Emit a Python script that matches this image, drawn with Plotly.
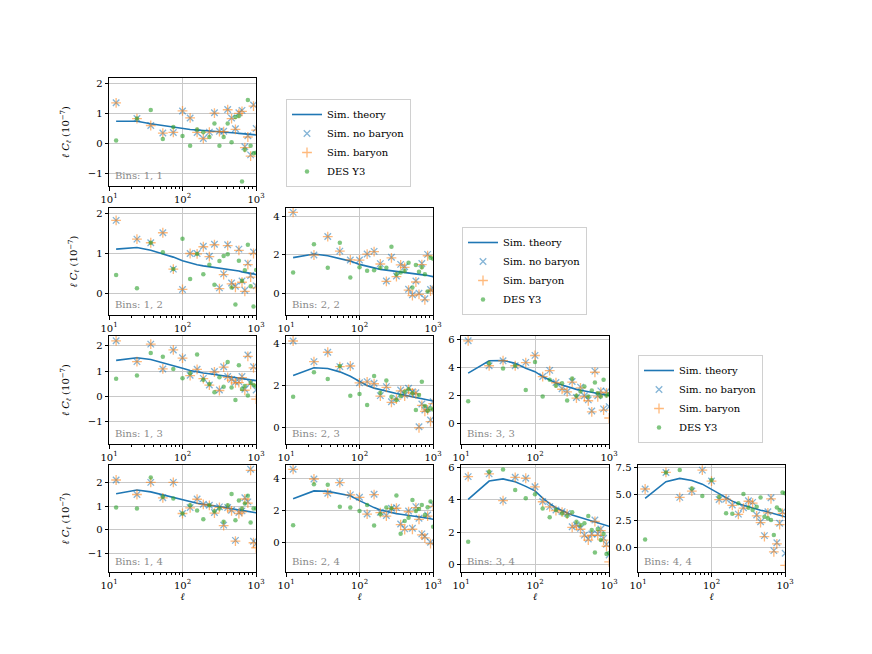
import plotly.graph_objects as go

# multipole bin centres shared by every panel
ell = [12.5, 24, 37, 54, 75, 100, 127, 158, 192, 232, 272, 318, 363, 412,
       465, 525, 585, 645, 705, 775, 845, 925, 1005]

# theory curves, l*C_l in units of 1e-7
theory_11 = [0.74, 0.74, 0.66, 0.60, 0.55, 0.49, 0.47, 0.45, 0.43, 0.42, 0.40, 0.39, 0.38, 0.37, 0.36, 0.35, 0.34, 0.33, 0.32, 0.31, 0.31, 0.30, 0.29]
theory_12 = [1.12, 1.16, 1.09, 1.00, 0.92, 0.83, 0.77, 0.73, 0.70, 0.68, 0.66, 0.64, 0.63, 0.61, 0.60, 0.58, 0.57, 0.55, 0.54, 0.52, 0.51, 0.50, 0.48]
theory_22 = [1.86, 2.05, 1.96, 1.82, 1.68, 1.51, 1.40, 1.30, 1.25, 1.21, 1.18, 1.15, 1.13, 1.10, 1.08, 1.06, 1.04, 1.00, 0.98, 0.95, 0.93, 0.90, 0.87]
theory_13 = [1.43, 1.53, 1.46, 1.34, 1.22, 1.12, 1.03, 0.97, 0.93, 0.90, 0.87, 0.85, 0.83, 0.81, 0.79, 0.77, 0.75, 0.72, 0.70, 0.68, 0.67, 0.65, 0.63]
theory_23 = [2.48, 2.86, 2.82, 2.66, 2.45, 2.20, 2.00, 1.88, 1.80, 1.74, 1.68, 1.62, 1.58, 1.54, 1.50, 1.48, 1.45, 1.42, 1.39, 1.36, 1.33, 1.30, 1.26]
theory_33 = [3.60, 4.48, 4.50, 4.30, 3.95, 3.70, 3.35, 3.10, 2.90, 2.75, 2.62, 2.50, 2.44, 2.38, 2.33, 2.29, 2.25, 2.20, 2.16, 2.12, 2.09, 2.05, 2.00]
theory_14 = [1.52, 1.68, 1.60, 1.47, 1.36, 1.28, 1.20, 1.12, 1.08, 1.05, 1.01, 0.98, 0.95, 0.92, 0.90, 0.87, 0.85, 0.82, 0.80, 0.78, 0.76, 0.74, 0.72]
theory_24 = [2.75, 3.25, 3.22, 3.10, 2.95, 2.64, 2.40, 2.20, 2.05, 1.95, 1.88, 1.82, 1.78, 1.75, 1.72, 1.69, 1.66, 1.63, 1.60, 1.56, 1.53, 1.50, 1.47]
theory_34 = [4.02, 5.15, 5.28, 5.10, 4.82, 4.54, 4.10, 3.75, 3.50, 3.30, 3.17, 3.05, 2.97, 2.88, 2.80, 2.74, 2.67, 2.60, 2.55, 2.49, 2.45, 2.40, 2.35]
theory_44 = [4.61, 6.18, 6.49, 6.30, 5.95, 5.45, 5.00, 4.65, 4.35, 4.10, 3.95, 3.80, 3.70, 3.60, 3.50, 3.42, 3.33, 3.25, 3.16, 3.07, 3.01, 2.95, 2.88]

# simulation without baryons
nob_11 = [1.35, 0.83, 0.60, 0.35, 0.37, 1.08, 0.85, 0.37, 0.17, 0.38, 1.02, 0.41, 0.41, 1.13, 0.85, 0.49, 1.02, 1.10, -0.10, 0.26, -0.37, 1.28, 0.50]
nob_12 = [1.84, 1.37, 1.28, 1.53, 0.62, 0.11, 1.01, 1.01, 1.19, 0.94, 1.24, 0.15, 0.50, 1.23, 0.27, 0.19, 1.12, 0.32, 0.09, 0.77, 0.46, 1.05, 0.20]
nob_22 = [4.22, 2.00, 2.96, 2.20, 1.74, 1.74, 2.05, 2.19, 1.55, 0.64, 1.88, 0.90, 1.51, 1.39, 0.21, -0.07, 0.64, 0.00, 1.56, -0.28, 2.03, 0.20, 0.26]
nob_13 = [2.20, 1.38, 2.07, 1.09, 1.84, 1.53, 0.84, 1.08, 0.72, 0.46, 0.99, 0.26, 1.18, 0.79, 0.68, 0.57, 0.59, 0.79, 0.29, 1.64, 0.53, 1.18, 0.26]
nob_23 = [4.14, 3.15, 3.60, 2.91, 2.94, 2.14, 2.19, 2.11, 1.52, 1.95, 1.23, 1.39, 1.79, 1.55, 1.87, 1.71, 1.66, 0.03, 1.12, 0.83, 0.91, 0.35, 1.23]
nob_33 = [5.90, 4.12, 4.48, 4.12, 4.36, 4.86, 3.36, 3.79, 2.93, 2.48, 2.29, 3.00, 1.86, 2.60, 1.98, 1.69, 0.90, 3.74, 1.98, 2.33, 1.05, 2.29, 1.21]
nob_14 = [2.10, 1.49, 2.00, 1.35, 2.00, 0.69, 0.94, 1.30, 1.08, 1.04, 0.73, 0.97, 0.20, 0.94, 0.83, -0.44, 0.73, 0.80, 1.35, 1.18, 2.55, -0.48, -0.58]
nob_24 = [4.61, 4.00, 3.10, 3.77, 3.00, 2.85, 1.80, 3.04, 1.91, 1.70, 2.16, 2.20, 1.17, 0.86, 1.99, 0.90, 2.26, 1.53, 0.55, 0.38, 1.74, 0.02, 2.37]
nob_34 = [5.42, 5.59, 3.94, 5.38, 5.32, 4.80, 3.88, 3.57, 3.36, 3.26, 3.15, 2.33, 2.43, 2.23, 1.81, 1.57, 1.88, 2.74, 1.88, 2.19, 1.61, 1.24, 0.58]
nob_44 = [5.49, 7.05, 4.70, 5.30, 7.27, 6.24, 4.51, 4.55, 3.98, 3.13, 3.73, 4.39, 4.23, 3.04, 2.41, 1.10, 3.35, 4.67, -0.31, 0.44, 2.26, 3.35, -0.56]

# simulation with baryons
bar_11 = [1.35, 0.83, 0.60, 0.35, 0.37, 1.08, 0.85, 0.37, 0.17, 0.38, 1.01, 0.40, 0.40, 1.12, 0.83, 0.47, 1.00, 1.07, -0.13, 0.22, -0.41, 1.24, 0.45]
bar_12 = [1.84, 1.37, 1.28, 1.53, 0.62, 0.11, 1.01, 1.00, 1.18, 0.93, 1.23, 0.13, 0.48, 1.21, 0.25, 0.16, 1.09, 0.29, 0.06, 0.73, 0.42, 1.01, 0.15]
bar_22 = [4.22, 2.00, 2.96, 2.20, 1.74, 1.73, 2.04, 2.17, 1.53, 0.62, 1.85, 0.87, 1.48, 1.35, 0.17, -0.12, 0.59, -0.05, 1.50, -0.34, 1.96, 0.12, 0.18]
bar_13 = [2.20, 1.38, 2.07, 1.09, 1.84, 1.52, 0.83, 1.07, 0.71, 0.45, 0.97, 0.24, 1.16, 0.76, 0.65, 0.54, 0.55, 0.75, 0.25, 1.59, 0.48, 1.13, -0.10]
bar_23 = [4.14, 3.15, 3.60, 2.91, 2.94, 2.13, 2.18, 2.09, 1.50, 1.92, 1.20, 1.35, 1.75, 1.50, 1.82, 1.65, 1.60, -0.03, 1.05, 0.76, 0.84, 0.27, 1.14]
bar_33 = [5.90, 4.12, 4.48, 4.12, 4.35, 4.85, 3.35, 3.77, 2.91, 2.45, 2.26, 2.96, 1.82, 2.55, 1.93, 1.63, 0.84, 3.66, 1.90, 2.24, 0.96, 2.19, 0.40]
bar_14 = [2.10, 1.49, 2.00, 1.35, 2.00, 0.69, 0.93, 1.29, 1.07, 1.03, 0.71, 0.95, 0.18, 0.91, 0.80, -0.47, 0.69, 0.76, 1.30, 1.13, 2.50, -0.54, -0.75]
bar_24 = [4.61, 4.00, 3.10, 3.77, 3.00, 2.84, 1.79, 3.02, 1.89, 1.67, 2.13, 2.16, 1.13, 0.82, 1.94, 0.84, 2.20, 1.46, 0.48, 0.30, 1.66, -0.06, 2.28]
bar_34 = [5.42, 5.59, 3.94, 5.38, 5.32, 4.79, 3.87, 3.55, 3.33, 3.23, 3.11, 2.29, 2.38, 2.17, 1.75, 1.50, 1.80, 2.65, 1.79, 2.09, 1.50, 1.12, 0.15]
bar_44 = [5.49, 7.05, 4.70, 5.30, 7.26, 6.23, 4.50, 4.53, 3.95, 3.10, 3.69, 4.34, 4.17, 2.97, 2.33, 1.01, 3.25, 4.56, -0.42, 0.32, 2.13, 3.20, -1.70]

# DES Y3 measurements
des_11 = [0.10, 0.83, 1.11, 0.15, 0.55, 0.25, -0.07, 0.47, 0.38, 0.22, 0.67, -0.07, 0.22, 0.67, 0.05, 0.88, 0.91, -1.25, -0.20, 1.44, -0.07, -0.32, -0.30]
des_12 = [0.47, 0.14, 1.28, 1.04, 0.62, 1.38, 0.37, 1.00, 0.49, 0.73, 0.23, 0.82, 0.95, 0.99, 0.16, -0.27, 0.83, 0.33, 0.59, 1.23, 0.19, -0.32, 0.60]
des_22 = [1.08, 2.56, 1.34, 2.64, 0.82, 1.36, 1.18, 1.20, 1.34, 1.34, 2.43, 1.00, 1.08, 1.17, 1.60, 0.30, 1.48, 1.13, 1.36, 0.99, 0.09, 1.86, 1.80]
des_13 = [0.70, 0.83, 1.72, 1.57, 1.09, 0.72, 0.92, 1.66, 0.66, 0.50, 0.17, 0.76, 0.39, 1.36, 0.36, -0.13, 1.24, 0.30, 0.42, 0.04, 0.55, 0.46, 0.40]
des_23 = [1.47, 2.64, 2.32, 2.94, 1.52, 1.60, 1.07, 2.46, 1.66, 2.24, 1.47, 1.31, 1.50, 1.71, 1.82, 1.63, 0.83, 1.55, 2.18, 1.02, 0.80, 0.91, 0.85]
des_33 = [1.60, 4.30, 3.93, 4.12, 2.40, 4.38, 1.93, 3.12, 2.69, 2.88, 1.64, 3.21, 1.98, 2.29, 2.64, 1.93, 2.36, 2.93, 2.17, 1.93, 3.12, 2.00, 2.10]
des_14 = [0.94, 0.90, 2.20, 1.39, 1.32, 0.69, 1.04, 0.82, 0.45, 1.04, 0.79, 0.90, 0.34, 1.04, 1.51, 0.41, 1.24, 0.90, 1.11, 1.44, 0.31, 0.90, 0.90]
des_24 = [1.09, 3.67, 3.63, 2.26, 2.20, 1.99, 2.37, 1.07, 1.78, 2.20, 2.16, 2.96, 0.55, 1.36, 1.57, 2.68, 1.99, 2.12, 2.37, 1.74, 2.22, 2.58, 1.00]
des_34 = [1.40, 5.73, 5.86, 4.60, 4.08, 4.33, 3.46, 2.91, 3.36, 3.15, 2.99, 3.22, 2.64, 2.43, 2.54, 2.99, 2.12, 0.74, 2.19, 1.50, 1.88, 0.64, 0.70]
des_44 = [0.75, 7.05, 7.27, 5.55, 4.83, 6.33, 4.76, 3.20, 3.17, 4.14, 5.02, 3.73, 3.51, 3.82, 4.70, 2.88, 2.73, 2.57, 1.16, 3.76, 3.51, 5.17, 5.10]

W, H = 872, 654
FONT = "DejaVu Serif"
BLUE = "#1f77b4"

# pixel boxes of the panel grid
col_px = [(109, 256), (286, 433), (461, 609), (638, 785)]
row_px = [(78, 186), (208, 315), (336, 444), (465, 572)]

# (bin i, bin j, theory, no baryon, baryon, DES, y range, y dtick)
panels = [
    (1, 1, theory_11, nob_11, bar_11, des_11, [-1.4, 2.17], 1),
    (1, 2, theory_12, nob_12, bar_12, des_12, [-0.53, 2.15], 1),
    (2, 2, theory_22, nob_22, bar_22, des_22, [-1.13, 4.45], 2),
    (1, 3, theory_13, nob_13, bar_13, des_13, [-1.87, 2.39], 1),
    (2, 3, theory_23, nob_23, bar_23, des_23, [-0.8, 4.38], 2),
    (3, 3, theory_33, nob_33, bar_33, des_33, [-1.45, 6.24], 2),
    (1, 4, theory_14, nob_14, bar_14, des_14, [-1.77, 2.73], 1),
    (2, 4, theory_24, nob_24, bar_24, des_24, [-1.85, 4.88], 2),
    (3, 4, theory_34, nob_34, bar_34, des_34, [-0.47, 6.14], 2),
    (4, 4, theory_44, nob_44, bar_44, des_44, [-2.32, 7.75], 2.5),
]
legend_of = {(1, 1): "legend", (2, 2): "legend2", (3, 3): "legend3"}
minor_vals = [20, 30, 40, 50, 60, 70, 80, 90, 200, 300, 400, 500, 600, 700, 800, 900]

fig = go.Figure()
layout = {}
annotations = []

for k, (bi, bj, th, nb, br, ds, yr, dt) in enumerate(panels, start=1):
    sfx = "" if k == 1 else str(k)
    xa, ya = "x" + sfx, "y" + sfx
    leg = legend_of.get((bi, bj))
    common = dict(xaxis=xa, yaxis=ya, showlegend=leg is not None, legend=leg or "legend")

    fig.add_trace(go.Scatter(x=ell, y=th, mode="lines", name="Sim. theory",
                             line=dict(color=BLUE, width=1.6), **common))
    fig.add_trace(go.Scatter(x=ell, y=nb, mode="markers", name="Sim. no baryon",
                             marker=dict(symbol="x-thin", size=6.5, color="rgba(31,119,180,0.55)",
                                         line=dict(width=1.3, color="rgba(31,119,180,0.55)")),
                             **common))
    fig.add_trace(go.Scatter(x=ell, y=br, mode="markers", name="Sim. baryon",
                             marker=dict(symbol="cross-thin", size=7, color="rgba(255,127,14,0.55)",
                                         line=dict(width=1.3, color="rgba(255,127,14,0.55)")),
                             **common))
    fig.add_trace(go.Scatter(x=ell, y=ds, mode="markers", name="DES Y3",
                             marker=dict(symbol="circle", size=4.5, color="rgba(44,160,44,0.6)",
                                         line=dict(width=0)),
                             **common))

    x0, x1 = col_px[bi - 1]
    y0, y1 = row_px[bj - 1]
    axis_style = dict(showline=True, linecolor="black", linewidth=1, mirror=True,
                      ticks="outside", ticklen=3.5, tickwidth=0.8, tickcolor="black",
                      showgrid=True, gridcolor="#c8c8c8", gridwidth=0.8, zeroline=False,
                      automargin=False,
                      tickfont=dict(family=FONT, size=10, color="black"))
    layout["xaxis" + sfx] = dict(
        domain=[x0 / W, x1 / W], anchor=ya, type="log", range=[1, 3],
        tickvals=[10, 100, 1000],
        ticktext=["10<sup>1</sup>", "10<sup>2</sup>", "10<sup>3</sup>"],
        minor=dict(tickmode="array", tickvals=minor_vals, ticks="outside",
                   ticklen=2, tickwidth=0.6, tickcolor="black", showgrid=False),
        title=dict(text="<i>ℓ</i>" if bj == 4 else "", standoff=2,
                   font=dict(family=FONT, size=10, color="black")),
        **axis_style)
    layout["yaxis" + sfx] = dict(
        domain=[1 - y1 / H, 1 - y0 / H], anchor=xa, range=yr,
        tick0=0, dtick=dt, tickformat=".1f" if dt == 2.5 else "",
        title=dict(text="<i>ℓ C<sub>ℓ</sub></i> (10<sup>−7</sup>)" if bi == 1 else "",
                   standoff=16, font=dict(family=FONT, size=10, color="black")),
        **axis_style)
    annotations.append(dict(text=f"Bins: {bi}, {bj}", xref=xa + " domain", yref=ya + " domain",
                            x=0.03, y=0.03, xanchor="left", yanchor="bottom", showarrow=False,
                            font=dict(family=FONT, size=10, color="#8a8a8a")))

legend_style = dict(xanchor="left", yanchor="bottom", bgcolor="white",
                    bordercolor="#d0d0d0", borderwidth=1, tracegroupgap=0,
                    font=dict(family=FONT, size=10, color="black"))
fig.update_layout(
    template="none",
    width=W, height=H, autosize=False,
    margin=dict(l=0, r=0, t=0, b=0),
    paper_bgcolor="white", plot_bgcolor="white",
    font=dict(family=FONT, size=10, color="black"),
    legend=dict(x=286 / W, y=1 - 187 / H, **legend_style),
    legend2=dict(x=462 / W, y=1 - 315 / H, **legend_style),
    legend3=dict(x=638 / W, y=1 - 443 / H, **legend_style),
    annotations=annotations,
    **layout,
)

# drop the default page margin so the figure sits at the window origin
fig.write_html("out.html", config={"displayModeBar": False},
               post_script="document.body.style.margin = '0';")
